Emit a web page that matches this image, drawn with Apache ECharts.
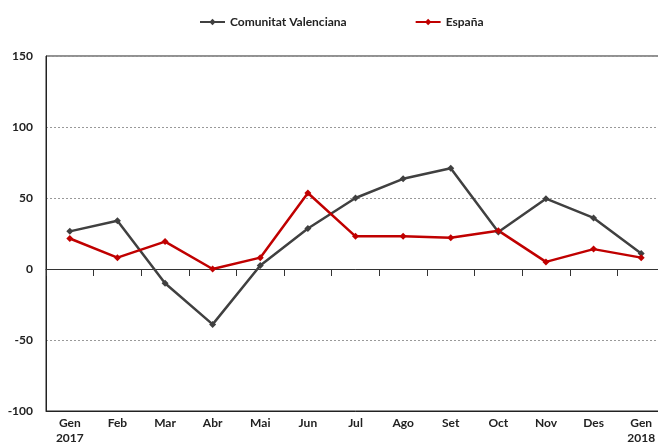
<!DOCTYPE html>
<html><head><meta charset="utf-8">
<script src="https://cdn.jsdelivr.net/npm/echarts@6/dist/echarts.min.js"></script>
<style>html,body{margin:0;padding:0;background:#fff;overflow:hidden;width:658px;height:446px}#c{width:672px;height:446px}</style>
</head><body><div id="c"></div>
<script>
const categories = ['Gen\n2017','Feb','Mar','Abr','Mai','Jun','Jul','Ago','Set','Oct','Nov','Des','Gen\n2018'];
const comunitat = [26.5, 34, -10, -39, 2.5, 28.5, 50, 63.5, 71, 26, 49.5, 36, 11];
const espana = [21.5, 8, 19.3, 0, 8, 53.5, 23, 23, 22, 27, 5, 14, 8];
const yTicks = {min: -100, max: 150, interval: 50};

const font = 'Lato, "Open Sans", sans-serif';
const chart = echarts.init(document.getElementById('c'));
chart.setOption({
  animation: false,
  legend: {
    top: 11, left: 194, itemGap: 68, itemWidth: 25, itemHeight: 8,
    textStyle: {fontFamily: font, fontWeight: 'bold', fontSize: 12, color: '#222'},
    data: ['Comunitat Valenciana', 'España']
  },
  grid: {left: 46, width: 619, top: 56, bottom: 28, show: true, borderColor: '#222', borderWidth: 1},
  xAxis: [
    {type: 'category', data: categories, boundaryGap: true,
      axisLine: {onZero: true, lineStyle: {color: '#333', width: 1}},
      axisTick: {show: true, length: 7, lineStyle: {color: '#333'}},
      axisLabel: {show: false}},
    {type: 'category', data: categories, boundaryGap: true, position: 'bottom',
      axisLine: {onZero: false, show: true, lineStyle: {color: '#222'}},
      axisTick: {show: false},
      axisLabel: {fontFamily: font, fontWeight: 'bold', fontSize: 12, color: '#222', margin: 5, lineHeight: 15, interval: 0}}
  ],
  yAxis: {
    type: 'value', min: yTicks.min, max: yTicks.max, interval: yTicks.interval,
    axisLine: {show: true, lineStyle: {color: '#222'}},
    axisTick: {show: false},
    axisLabel: {fontFamily: font, fontWeight: 'bold', fontSize: 12, color: '#222', margin: 13},
    splitLine: {show: true, lineStyle: {color: '#999', type: [2, 2], width: 1}}
  },
  series: [
    {name: 'Comunitat Valenciana', type: 'line', data: comunitat, xAxisIndex: 0,
      symbol: 'diamond', symbolSize: 7,
      lineStyle: {color: '#404040', width: 2.5}, itemStyle: {color: '#404040'}},
    {name: 'España', type: 'line', data: espana, xAxisIndex: 0,
      symbol: 'diamond', symbolSize: 7,
      lineStyle: {color: '#C00000', width: 2.5}, itemStyle: {color: '#C00000'}}
  ]
});
</script></body></html>
